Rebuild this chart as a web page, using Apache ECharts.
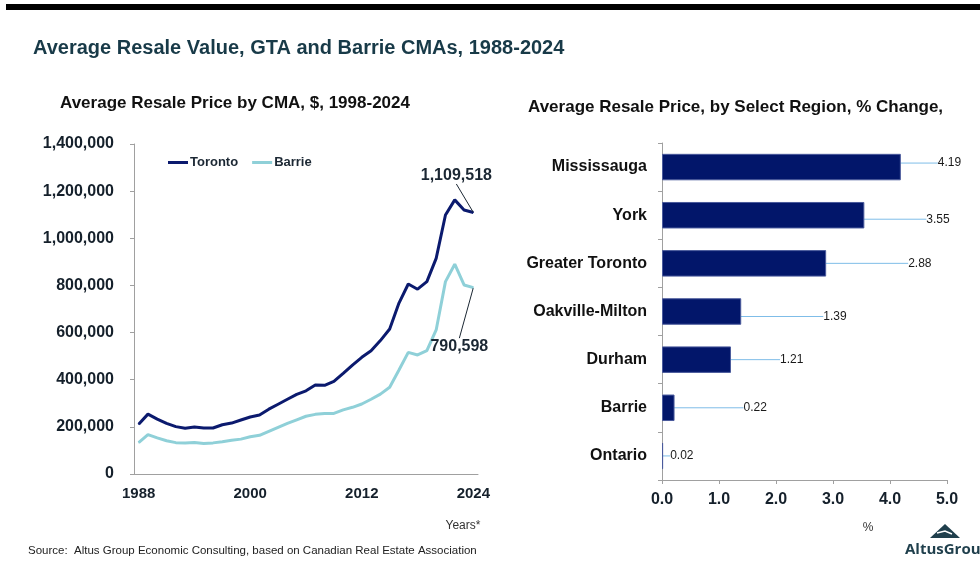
<!DOCTYPE html>
<html>
<head>
<meta charset="utf-8">
<title>Average Resale Value, GTA and Barrie CMAs</title>
<script src="https://cdn.jsdelivr.net/npm/echarts@6/dist/echarts.min.js"></script>
<style>
  html, body { margin: 0; padding: 0; background: #fff; }
  #main { width: 980px; height: 576px; }
</style>
</head>
<body>
<div id="main"></div>
<script>
// left chart: average resale price, $
var years = ['1988', '1989', '1990', '1991', '1992', '1993', '1994', '1995', '1996', '1997',
  '1998', '1999', '2000', '2001', '2002', '2003', '2004', '2005', '2006', '2007',
  '2008', '2009', '2010', '2011', '2012', '2013', '2014', '2015', '2016', '2017',
  '2018', '2019', '2020', '2021', '2022', '2023', '2024'];
var toronto = [211000, 254000, 233000, 215000, 201000, 194000, 199000, 195000, 195000, 209000,
  216000, 229000, 242000, 250000, 275000, 296000, 317000, 338000, 353000, 378000,
  376000, 393000, 427000, 462000, 495000, 523000, 566000, 615000, 725000, 806000,
  784000, 816000, 915000, 1099000, 1163000, 1120000, 1109518];
var barrie = [133000, 167000, 153000, 141000, 133000, 132000, 134000, 129000, 132000, 137000,
  143000, 148000, 158000, 164000, 181000, 198000, 215000, 230000, 245000, 253000,
  257000, 257000, 272000, 283000, 297000, 317000, 339000, 368000, 441000, 516000,
  505000, 523000, 611000, 816000, 890000, 802000, 790598];

// right chart: % change by region
var regions = ['Mississauga', 'York', 'Greater Toronto', 'Oakville-Milton', 'Durham', 'Barrie', 'Ontario'];
var change = [4.19, 3.55, 2.88, 1.39, 1.21, 0.22, 0.02];

// label nudges for the bar value labels (px)
var labelDx = [32, 57, 77, 77, 44, 64, 2];
var labelDy = [-4, 4, 0, 5, 0, 0, 0];

var FONT = 'Arial, "Liberation Sans", sans-serif';
var NAVY = '#0b1a6e';
var TEAL = '#8fd0d8';
var BAR = '#02166a';
var AXIS = '#a0a0a0';
var TXT = '#15202b';

var myChart = echarts.init(document.getElementById('main'));

function fmt(v) {
  return Math.round(v).toLocaleString('en-US');
}

function lastLabel(dx, dy) {
  return function (params) {
    if (params.dataIndex !== years.length - 1) return {};
    return { dx: dx, dy: dy };
  };
}

function lastPointData(arr, pos) {
  return arr.map(function (v, i) {
    if (i !== arr.length - 1) return v;
    return {
      value: v,
      label: {
        show: true,
        position: pos,
        formatter: function (p) { return fmt(p.value); },
        fontFamily: FONT,
        fontWeight: 'bold',
        fontSize: 16,
        color: '#1b2733'
      },
      labelLine: { show: true, lineStyle: { color: '#1b2733', width: 1 } }
    };
  });
}

var option = {
  animation: false,
  textStyle: { fontFamily: FONT },
  title: [
    {
      text: 'Average Resale Value, GTA and Barrie CMAs, 1988-2024',
      left: 28, top: 33,
      textStyle: { fontSize: 20, fontWeight: 'bold', color: '#183a48', fontFamily: FONT }
    },
    {
      text: 'Average Resale Price by CMA, $, 1998-2024',
      left: 55, top: 90,
      textStyle: { fontSize: 17, fontWeight: 'bold', color: '#111', fontFamily: FONT }
    },
    {
      text: 'Average Resale Price, by Select Region, % Change,',
      left: 523, top: 94,
      textStyle: { fontSize: 17, fontWeight: 'bold', color: '#111', fontFamily: FONT }
    }
  ],
  legend: {
    left: 163, top: 151,
    icon: 'rect',
    itemWidth: 20, itemHeight: 3,
    itemGap: 14,
    data: ['Toronto', 'Barrie'],
    textStyle: { fontSize: 13, fontWeight: 'bold', color: '#1b2733', padding: [0, 0, 0, -3] }
  },
  grid: [
    { left: 134, top: 144, width: 344, height: 330 },
    { left: 662, top: 143, width: 285, height: 337 }
  ],
  xAxis: [
    {
      gridIndex: 0,
      type: 'category',
      data: years,
      boundaryGap: true,
      axisLine: { lineStyle: { color: AXIS } },
      axisTick: { show: false },
      axisLabel: {
        interval: 11,
        margin: 12,
        fontSize: 15,
        fontWeight: 'bold',
        color: TXT
      }
    },
    {
      gridIndex: 1,
      type: 'value',
      min: 0, max: 5, interval: 1,
      splitLine: { show: false },
      axisLine: { show: true, lineStyle: { color: AXIS } },
      axisTick: { show: true, length: 4, lineStyle: { color: AXIS } },
      axisLabel: {
        margin: 12,
        fontSize: 16,
        fontWeight: 'bold',
        color: TXT,
        formatter: function (v) { return v.toFixed(1); }
      }
    }
  ],
  yAxis: [
    {
      gridIndex: 0,
      type: 'value',
      min: 0, max: 1400000, interval: 200000,
      splitLine: { show: false },
      axisLine: { show: true, lineStyle: { color: AXIS } },
      axisTick: { show: true, length: 4, lineStyle: { color: AXIS } },
      axisLabel: {
        margin: 20,
        fontSize: 16,
        fontWeight: 'bold',
        color: TXT,
        formatter: function (v) { return fmt(v); }
      }
    },
    {
      gridIndex: 1,
      type: 'category',
      data: regions,
      inverse: true,
      axisLine: { show: true, lineStyle: { color: AXIS } },
      axisTick: { show: true, length: 4, lineStyle: { color: AXIS } },
      axisLabel: {
        margin: 15,
        fontSize: 16,
        fontWeight: 'bold',
        color: '#111'
      }
    }
  ],
  series: [
    {
      name: 'Toronto',
      type: 'line',
      xAxisIndex: 0, yAxisIndex: 0,
      data: lastPointData(toronto, 'top'),
      showSymbol: true,
      showAllSymbol: true,
      symbol: 'circle',
      symbolSize: 1,
      lineStyle: { color: NAVY, width: 3 },
      itemStyle: { color: NAVY },
      labelLayout: lastLabel(-17, -23)
    },
    {
      name: 'Barrie',
      type: 'line',
      xAxisIndex: 0, yAxisIndex: 0,
      data: lastPointData(barrie, 'bottom'),
      showSymbol: true,
      showAllSymbol: true,
      symbol: 'circle',
      symbolSize: 1,
      lineStyle: { color: TEAL, width: 3 },
      itemStyle: { color: TEAL },
      labelLayout: lastLabel(-14, 45)
    },
    {
      name: '% Change',
      type: 'bar',
      xAxisIndex: 1, yAxisIndex: 1,
      data: change,
      barWidth: '55%',
      itemStyle: { color: BAR, borderColor: '#4a5a9c', borderWidth: 1 },
      label: {
        show: true,
        position: 'right',
        fontSize: 12,
        color: '#1a1a1a',
        formatter: function (p) { return p.value.toFixed(2); }
      },
      labelLine: { show: true, lineStyle: { color: '#7fbde8', width: 1 } },
      labelLayout: function (params) {
        return { dx: labelDx[params.dataIndex], dy: labelDy[params.dataIndex] };
      }
    }
  ],
  graphic: [
    {
      type: 'rect',
      shape: { x: 6, y: 4, width: 974, height: 6 },
      style: { fill: '#000' }
    },
    {
      type: 'text',
      x: 463, y: 526,
      style: { text: 'Years*', fontSize: 12, fill: '#333', fontFamily: FONT, align: 'center', verticalAlign: 'middle' }
    },
    {
      type: 'text',
      x: 868, y: 528,
      style: { text: '%', fontSize: 12, fill: '#333', fontFamily: FONT, align: 'center', verticalAlign: 'middle' }
    },
    {
      type: 'text',
      x: 28, y: 551,
      style: {
        text: 'Source:  Altus Group Economic Consulting, based on Canadian Real Estate Association',
        fontSize: 11.5, fill: '#222', fontFamily: FONT, verticalAlign: 'middle'
      }
    },
    {
      type: 'polygon',
      shape: { points: [[945, 524], [930, 538], [960, 538]] },
      style: { fill: '#1f3f4c' }
    },
    {
      type: 'polyline',
      shape: { points: [[937, 533], [945, 531], [952, 534]] },
      style: { stroke: '#fff', lineWidth: 1.5, fill: null }
    },
    {
      type: 'text',
      x: 905, y: 550,
      style: { text: 'AltusGroup', fontSize: 15, fontWeight: 'bold', fill: '#1f3f4c', fontFamily: '"Open Sans", ' + FONT, verticalAlign: 'middle' }
    }
  ]
};

myChart.setOption(option);
</script>
</body>
</html>
